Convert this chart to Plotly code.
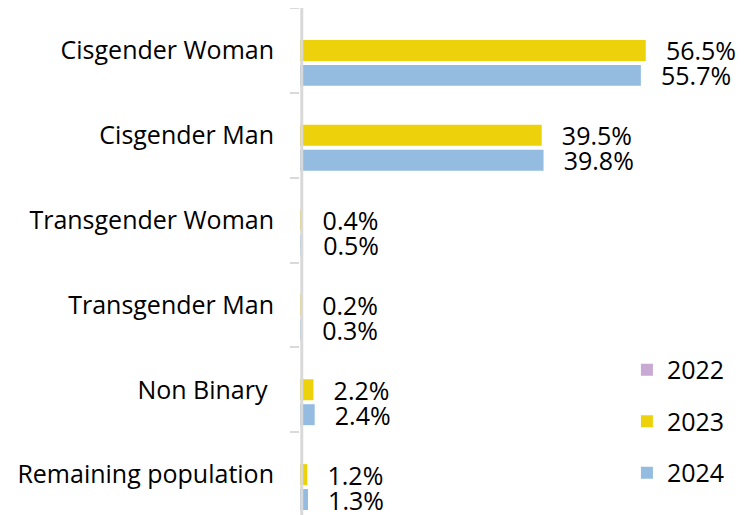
import plotly.graph_objects as go

categories = ["Cisgender Woman", "Cisgender Man", "Transgender Woman",
              "Transgender Man", "Non Binary\u00a0", "Remaining population"]
values_2022 = [None, None, None, None, None, None]
values_2023 = [56.5, 39.5, 0.4, 0.2, 2.2, 1.2]
values_2024 = [55.7, 39.8, 0.5, 0.3, 2.4, 1.3]

colors = {"2022": "#C8A9D3", "2023": "#EDD20B", "2024": "#93BCE0"}

fig = go.Figure()
for name, vals in [("2022", values_2022), ("2023", values_2023), ("2024", values_2024)]:
    fig.add_trace(go.Bar(
        y=categories, x=vals, name=name, orientation="h",
        marker=dict(color=colors[name], line=dict(width=0)),
        legendgroup=name,
        texttemplate="\u00a0\u00a0\u2009%{x:.1f}%" if name != "2022" else None,
        textposition="outside", constraintext="none", textangle=0,
        textfont=dict(size=25, color="#000000", family="Open Sans"),
        cliponaxis=False,
        hoverinfo="skip",
    ))

fig.update_layout(
    width=750, height=515,
    margin=dict(l=292, r=18, t=0, b=6, autoexpand=False),
    paper_bgcolor="white", plot_bgcolor="white",
    font=dict(family="Open Sans", size=25, color="#000000"),
    barmode="group", bargap=0.118, bargroupgap=0.16,
    showlegend=True,
    legend=dict(x=0.743, y=0.334, xanchor="left", yanchor="top",
                traceorder="grouped", tracegroupgap=16,
                font=dict(size=25, color="#000000"),
                bgcolor="rgba(0,0,0,0)"),
    shapes=[dict(type="line", xref="x domain", yref="y domain",
                 x0=0.004, x1=0.004, y0=0, y1=1.0,
                 line=dict(color="#D9D9D9", width=3), layer="above")],
)
fig.update_xaxes(range=[0, 71.9], visible=False, showgrid=False, zeroline=False,
                 automargin=False)
fig.update_yaxes(autorange="reversed", showline=False, automargin=False,
                 ticks="outside", tickson="boundaries", ticklen=9, tickwidth=2,
                 tickcolor="#D9D9D9", showgrid=False, ticklabelstandoff=25,
                 tickfont=dict(size=25, color="#000000"))

fig.write_html("out.html")
